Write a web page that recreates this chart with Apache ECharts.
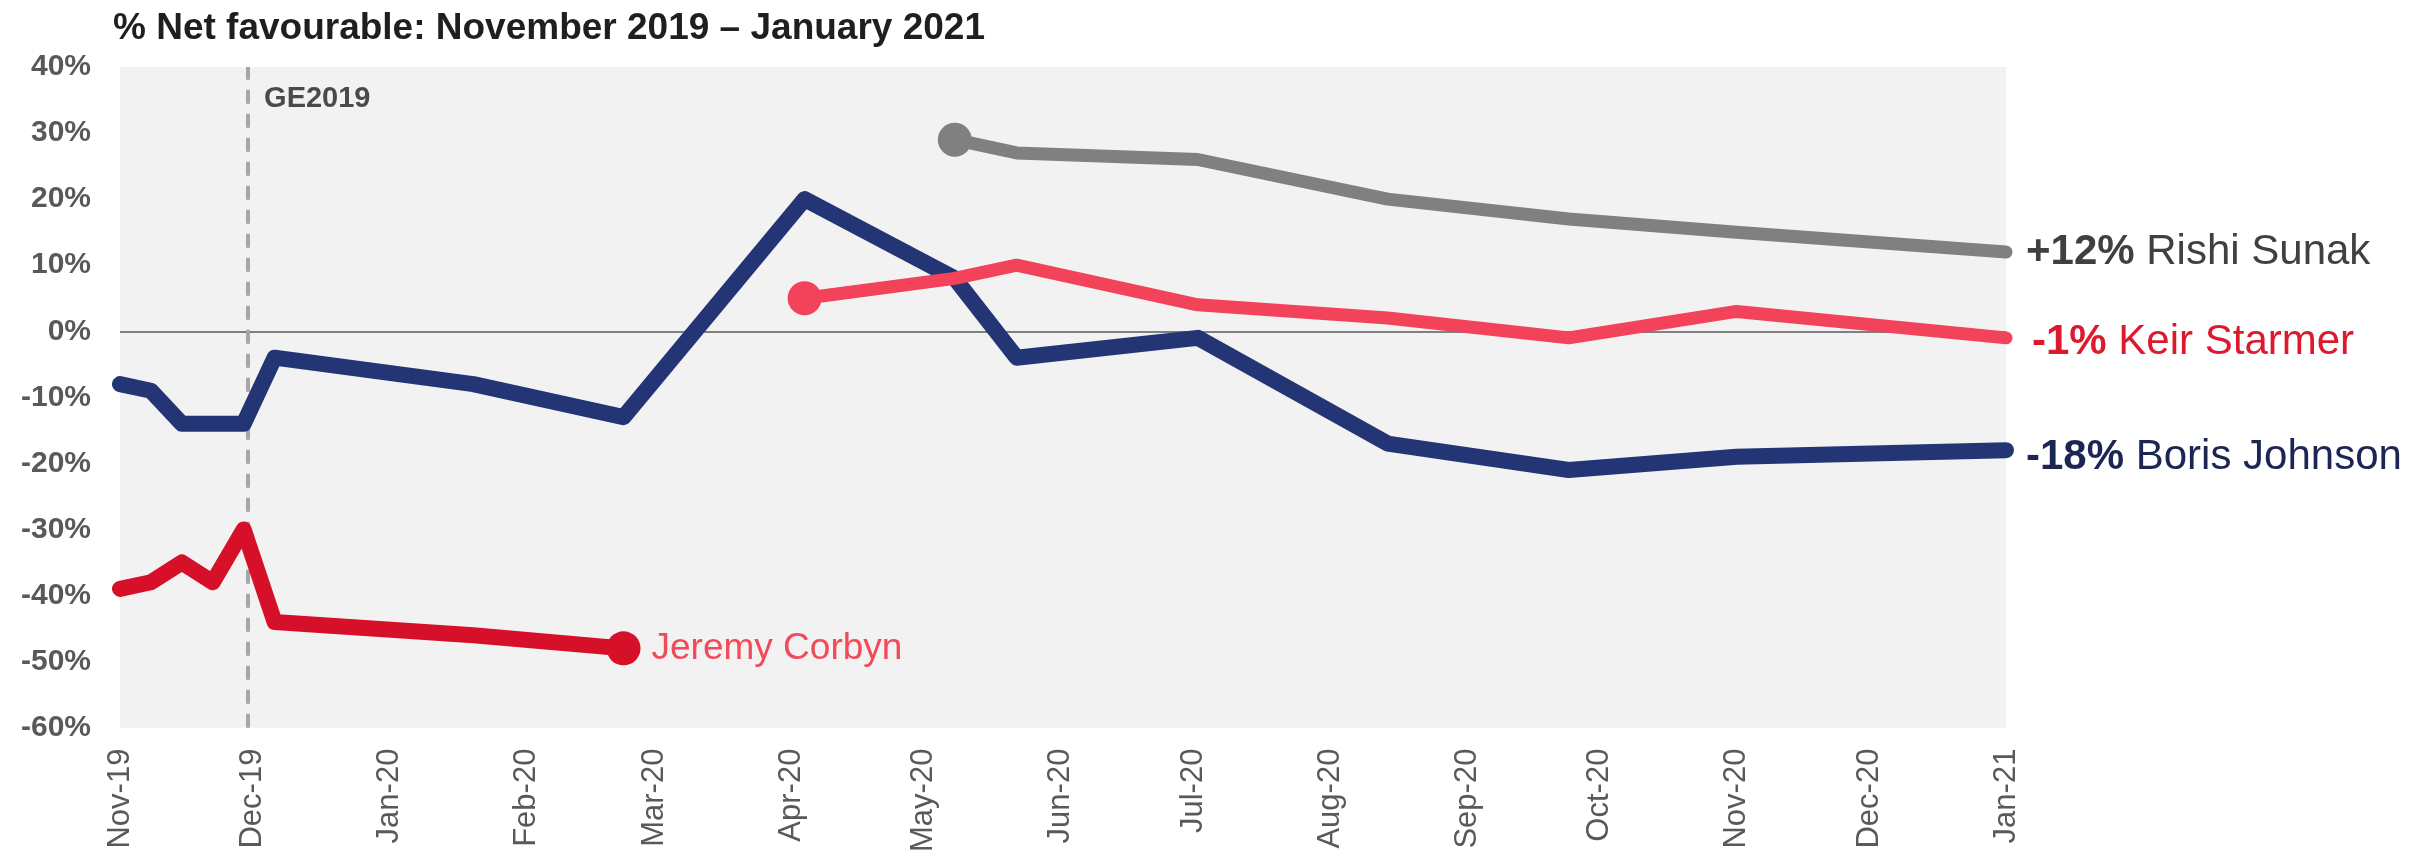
<!DOCTYPE html>
<html>
<head>
<meta charset="utf-8">
<script src="https://cdn.jsdelivr.net/npm/echarts@6/dist/echarts.min.js"></script>
<style>
  html, body { margin: 0; padding: 0; background: #ffffff; }
  #chart { width: 2433px; height: 855px; }
</style>
</head>
<body>
<div id="chart"></div>
<script>
// ---- data ----
const MONTH_ABBR = ['Jan','Feb','Mar','Apr','May','Jun','Jul','Aug','Sep','Oct','Nov','Dec'];
const yTickValues = [-60, -50, -40, -30, -20, -10, 0, 10, 20, 30, 40];

const johnsonDates = ['2019-11-01','2019-11-08','2019-11-15','2019-11-22','2019-11-29','2019-12-06','2020-01-20','2020-02-23','2020-04-04','2020-05-08','2020-05-22','2020-07-02','2020-08-14','2020-09-24','2020-11-01','2021-01-01'];
const johnsonValues = [-8, -9, -14, -14, -14, -4, -8, -13, 20, 8, -4, -1, -17, -21, -19, -18];

const corbynDates = ['2019-11-01','2019-11-08','2019-11-15','2019-11-22','2019-11-29','2019-12-06','2020-01-20','2020-02-23'];
const corbynValues = [-39, -38, -35, -38, -30, -44, -46, -48];

const starmerDates = ['2020-04-04','2020-05-08','2020-05-22','2020-07-02','2020-08-14','2020-09-24','2020-11-01','2021-01-01'];
const starmerValues = [5, 8, 10, 4, 2, -1, 3, -1];

const sunakDates = ['2020-05-08','2020-05-22','2020-07-02','2020-08-14','2020-09-24','2020-11-01','2021-01-01'];
const sunakValues = [29, 27, 26, 20, 17, 15, 12];

const electionDate = '2019-11-30';
const electionLabel = 'GE2019';
const electionLabelValue = 35.2;

const axisMin = '2019-11-01';
const axisMax = '2021-01-01';

// ---- helpers ----
function build(dates, values, markerIdx) {
  return dates.map((d, i) => ({
    value: [d, values[i]],
    symbolSize: markerIdx.indexOf(i) >= 0 ? 34 : 0
  }));
}
function fmtMonth(v) {
  const d = new Date(v);
  return MONTH_ABBR[d.getMonth()] + '-' + String(d.getFullYear()).slice(2);
}

const FONT = 'Liberation Sans, Arial, sans-serif';
const chart = echarts.init(document.getElementById('chart'), null, { renderer: 'canvas' });

const lineBase = {
  type: 'line',
  smooth: false,
  symbol: 'circle',
  showSymbol: true,
  animation: false,
  silent: true,
  z: 3
};

chart.setOption({
  animation: false,
  backgroundColor: '#ffffff',
  textStyle: { fontFamily: FONT },
  title: {
    text: '% Net favourable: November 2019 \u2013 January 2021',
    left: 108,
    top: 5,
    textStyle: { fontFamily: FONT, fontSize: 37, fontWeight: 'bold', color: '#1f1f1f' }
  },
  grid: {
    left: 120, right: 427, top: 67, bottom: 124,
    show: true, backgroundColor: '#f2f2f2', borderWidth: 0
  },
  xAxis: {
    type: 'time',
    min: axisMin,
    max: axisMax,
    splitNumber: 14,
    minInterval: 28 * 86400000,
    maxInterval: 31 * 86400000,
    axisLine: { show: false },
    axisTick: { show: false },
    splitLine: { show: false },
    axisLabel: {
      rotate: 90,
      margin: 21,
      fontFamily: FONT,
      fontSize: 31,
      color: '#595959',
      showMinLabel: true,
      showMaxLabel: true,
      hideOverlap: false,
      formatter: fmtMonth
    }
  },
  yAxis: {
    type: 'value',
    min: yTickValues[0],
    max: yTickValues[yTickValues.length - 1],
    interval: 10,
    axisLine: { show: false },
    axisTick: { show: false },
    splitLine: { show: false },
    axisLabel: {
      margin: 29,
      fontFamily: FONT,
      fontSize: 30,
      fontWeight: 'bold',
      color: '#595959',
      formatter: '{value}%'
    }
  },
  series: [
    Object.assign({}, lineBase, {
      name: 'Boris Johnson',
      data: build(johnsonDates, johnsonValues, []),
      itemStyle: { color: '#233574' },
      lineStyle: { color: '#233574', width: 16, cap: 'round', join: 'round' },
      endLabel: {
        show: true,
        distance: 20,
        offset: [0, 7],
        formatter: '{b|-18%}{n| Boris Johnson}',
        rich: {
          b: { fontFamily: FONT, fontSize: 42, fontWeight: 'bold', color: '#1c2653' },
          n: { fontFamily: FONT, fontSize: 42, color: '#1c2653' }
        }
      },
      markLine: {
        silent: true,
        symbol: ['none', 'none'],
        animation: false,
        label: { show: false },
        data: [
          { yAxis: 0, lineStyle: { color: '#808080', width: 2, type: 'solid' } },
          { xAxis: electionDate, lineStyle: { color: '#a6a6a6', width: 4, type: [14, 10] } }
        ],
        z: 2
      }
    }),
    Object.assign({}, lineBase, {
      name: 'Jeremy Corbyn',
      data: build(corbynDates, corbynValues, [corbynDates.length - 1]),
      itemStyle: { color: '#d7102a' },
      lineStyle: { color: '#d7102a', width: 16, cap: 'round', join: 'round' },
      endLabel: {
        show: true,
        distance: 28,
        formatter: 'Jeremy Corbyn',
        fontFamily: FONT,
        fontSize: 37,
        color: '#f2495b'
      }
    }),
    Object.assign({}, lineBase, {
      name: 'Keir Starmer',
      data: build(starmerDates, starmerValues, [0]),
      itemStyle: { color: '#f2435a' },
      lineStyle: { color: '#f2435a', width: 13, cap: 'round', join: 'round' },
      endLabel: {
        show: true,
        distance: 26,
        offset: [0, 5],
        formatter: '{b|-1%}{n| Keir Starmer}',
        rich: {
          b: { fontFamily: FONT, fontSize: 42, fontWeight: 'bold', color: '#dc1a2e' },
          n: { fontFamily: FONT, fontSize: 42, color: '#dc1a2e' }
        }
      }
    }),
    Object.assign({}, lineBase, {
      name: 'Rishi Sunak',
      data: build(sunakDates, sunakValues, [0]),
      itemStyle: { color: '#808080' },
      lineStyle: { color: '#808080', width: 13, cap: 'round', join: 'round' },
      endLabel: {
        show: true,
        distance: 20,
        formatter: '{b|+12%}{n| Rishi Sunak}',
        rich: {
          b: { fontFamily: FONT, fontSize: 42, fontWeight: 'bold', color: '#404040' },
          n: { fontFamily: FONT, fontSize: 42, color: '#404040' }
        }
      }
    }),
    {
      type: 'scatter',
      name: 'GE label',
      silent: true,
      animation: false,
      symbolSize: 0,
      data: [[electionDate, electionLabelValue]],
      label: {
        show: true,
        position: 'right',
        distance: 16,
        formatter: electionLabel,
        fontFamily: FONT,
        fontSize: 29,
        fontWeight: 'bold',
        color: '#1f1f1f'
      }
    }
  ]
});
</script>
</body>
</html>
